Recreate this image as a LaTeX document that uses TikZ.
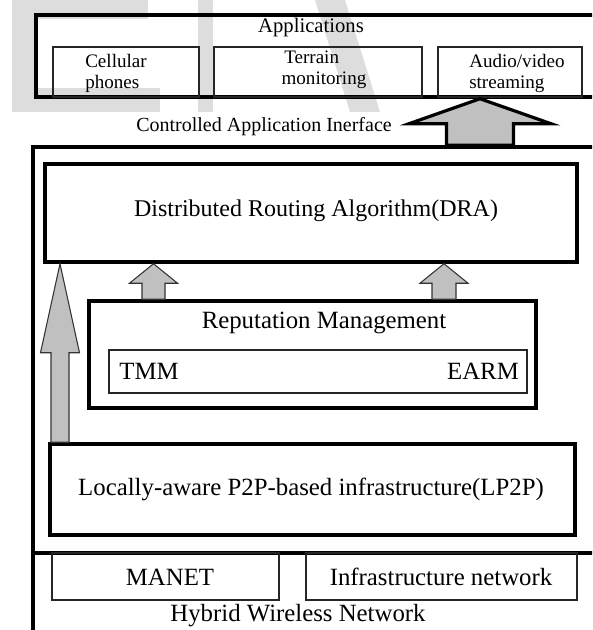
\documentclass[tikz,border=0pt]{standalone}
\usepackage{fontspec}
\setmainfont{Liberation Serif}
\usetikzlibrary{calc,fit}
\definecolor{wmark}{HTML}{DDDDDD}
\definecolor{arrowfill}{HTML}{C0C0C0}
% block arrow pointing up: style, tip, base, head half width, head length, shaft half width
\newcommand\uparrowblock[6]{%
  \draw[#1] (#2) -- ($(#2)+(#4,#5)$) -- ($(#2)+(#6,#5)$) -- ($(#3)+(#6,0)$)
    -- ($(#3)+(-#6,0)$) -- ($(#2)+(-#6,#5)$) -- ($(#2)+(-#4,#5)$) -- cycle;}
\begin{document}
\begin{tikzpicture}[x=0.75pt,y=-0.75pt,
  frame/.style={draw, line width=2.6pt, inner sep=0pt},
  subbox/.style={draw=black!85, line width=0.9pt, inner sep=0pt},
  bigtext/.style={inner sep=0pt, font=\fontsize{18.6}{22}\selectfont},
  smalltext/.style={inner sep=0pt, align=left, anchor=west, font=\fontsize{14.3}{15.8}\selectfont},
  fatarrow/.style={draw, line width=2.4pt, fill=arrowfill, line join=miter},
  slimarrow/.style={draw=black!80, line width=0.8pt, fill=arrowfill},
]
\useasboundingbox (0,0) rectangle (592,630);
\clip (0,0) rectangle (592,630);

% faint background lettering
\fill[wmark] (12,0) rectangle (148,19);
\fill[wmark] (12,0) rectangle (36,112);
\fill[wmark] (12,88) rectangle (160,112);
\fill[wmark] (198,0) rectangle (213,112);
\fill[wmark] (315,0) -- (345,0) -- (380,112) -- (350,112) -- cycle;

% application layer
\node[frame, fit={(36,15) (620,97)}] (apps) {};
\node[subbox, fit={(53,47) (199,97)}] (cell) {};
\node[subbox, fit={(214,47) (422,97)}] (terr) {};
\node[subbox, fit={(438,47) (582,97)}] (audio) {};

% middleware and network layers
\node[frame, fit={(33,147) (620,660)}] (main) {};
\node[frame, fit={(45,164) (577,262)}] (dra) {};
\node[frame, fit={(89,301) (536,408)}] (rep) {};
\node[subbox, fit={(109,350) (527,393)}] (trust) {};
\node[frame, fit={(50,444) (575,535)}] (lp2p) {};
\coordinate (divL) at (33,553);
\coordinate (divR) at (620,553);
\draw[line width=2.6pt] (divL) -- (divR);
\node[subbox, fit={(52,553) (279,600)}] (manet) {};
\node[subbox, fit={(306,553) (577,600)}] (infra) {};

% arrows
\coordinate (xA) at (480,0);
\coordinate (xB) at (153.5,0);
\coordinate (xC) at (444,0);
\coordinate (xD) at (60,0);
\uparrowblock{fatarrow}{xA |- apps.south}{xA |- main.north}{71}{25}{33.5}
\uparrowblock{slimarrow}{xB |- dra.south}{xB |- rep.north}{24}{19.5}{11.5}
\uparrowblock{slimarrow}{xC |- dra.south}{xC |- rep.north}{24}{19.5}{12}
\uparrowblock{slimarrow}{xD |- dra.south}{xD |- lp2p.north}{19.5}{89}{9}

% labels
\node[inner sep=0pt, font=\fontsize{15.5}{18}\selectfont] (appsT) at (311,28) {Applications};
\node[smalltext] (cellT) at (85,73) {Cellular\\phones};
\node[smalltext] (terrT) at (284,70) {Terrain\\\hspace*{-2pt}monitoring};
\node[smalltext] (audioT) at (469,73) {Audio/video\\streaming};
\node[inner sep=0pt, font=\fontsize{15}{18}\selectfont] (cai) at (264,127) {Controlled Application Inerface};
\node[bigtext, font=\fontsize{18}{22}\selectfont] (draT) at (316,211) {Distributed Routing Algorithm(DRA)};
\node[bigtext] (repT) at (324,323) {Reputation Management};
\node[bigtext] (tmm) at (149,371) {TMM};
\node[bigtext] (earm) at (483,371) {EARM};
\node[bigtext] (lp2pT) at (311,489) {Locally-aware P2P-based infrastructure(LP2P)};
\node[bigtext] (manetT) at (170,577) {MANET};
\node[bigtext] (infraT) at (441,577) {Infrastructure network};
\node[bigtext] (hwn) at (298,616) {Hybrid Wireless Network};
\end{tikzpicture}
\end{document}
